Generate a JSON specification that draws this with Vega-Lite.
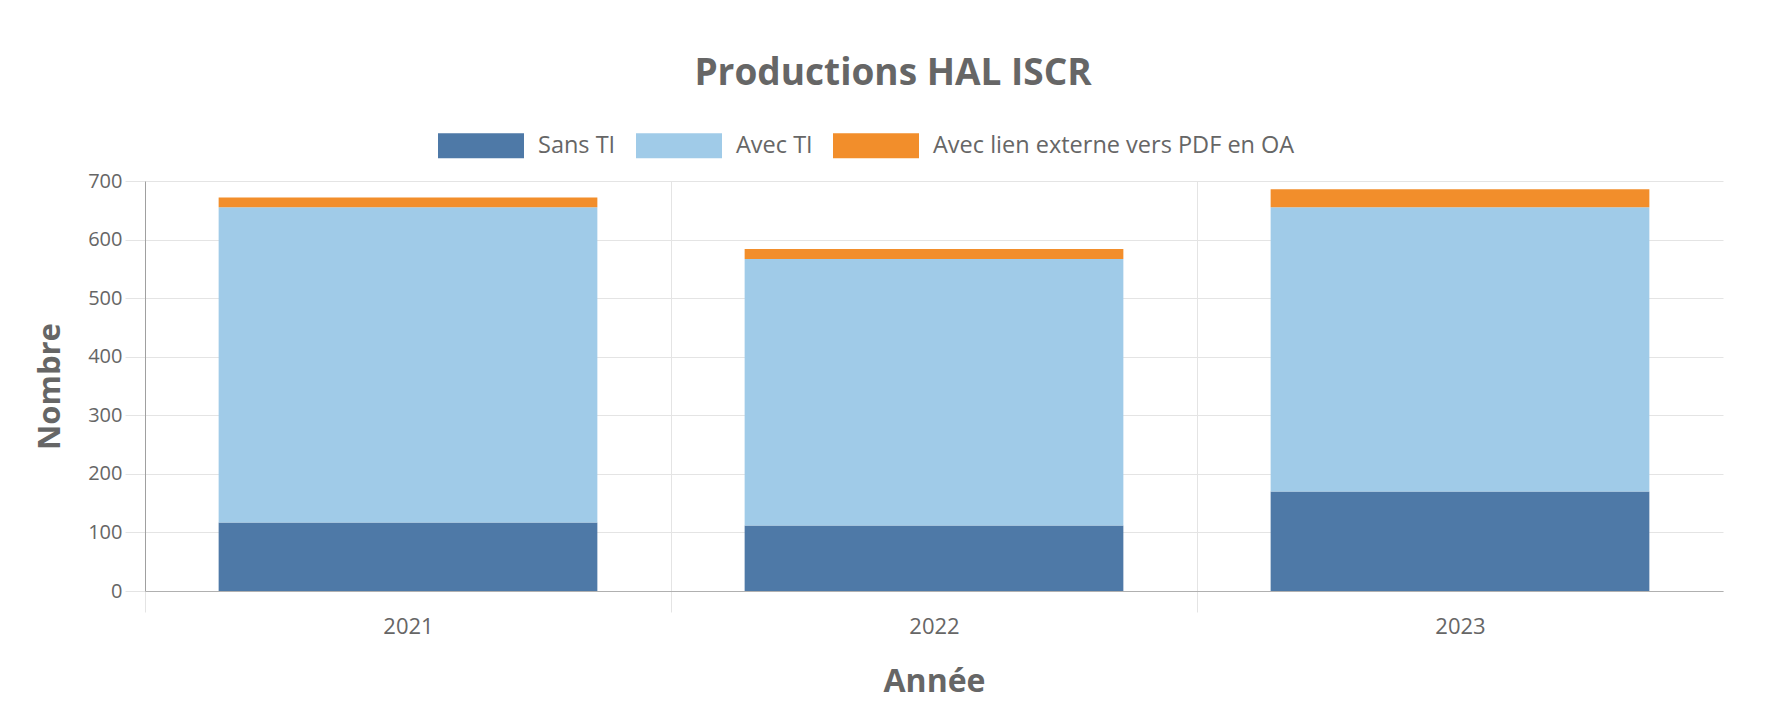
{
  "$schema": "https://vega.github.io/schema/vega-lite/v6.json",
  "width": 1578,
  "height": 410,
  "autosize": {"type": "none"},
  "padding": {"left": 145, "top": 181, "right": 42, "bottom": 125},
  "background": "white",
  "title": {
    "text": "Productions HAL ISCR",
    "anchor": "middle",
    "frame": "group",
    "dx": -41,
    "offset": 10,
    "font": "Open Sans",
    "fontSize": 37,
    "fontWeight": "bold",
    "color": "#666666"
  },
  "config": {
    "view": {"stroke": null},
    "font": "Open Sans"
  },
  "data": {
    "values": [
      {"annee": "2021", "type": "Sans TI", "nombre": 117, "ord": 1},
      {"annee": "2021", "type": "Avec TI", "nombre": 538, "ord": 2},
      {"annee": "2021", "type": "Avec lien externe vers PDF en OA", "nombre": 17, "ord": 3},
      {"annee": "2022", "type": "Sans TI", "nombre": 112, "ord": 1},
      {"annee": "2022", "type": "Avec TI", "nombre": 455, "ord": 2},
      {"annee": "2022", "type": "Avec lien externe vers PDF en OA", "nombre": 17, "ord": 3},
      {"annee": "2023", "type": "Sans TI", "nombre": 170, "ord": 1},
      {"annee": "2023", "type": "Avec TI", "nombre": 485, "ord": 2},
      {"annee": "2023", "type": "Avec lien externe vers PDF en OA", "nombre": 31, "ord": 3}
    ]
  },
  "mark": {"type": "bar"},
  "encoding": {
    "x": {
      "field": "annee",
      "type": "nominal",
      "title": "Année",
      "scale": {"paddingInner": 0.28, "paddingOuter": 0.14},
      "axis": {
        "labelAngle": 0,
        "bandPosition": 0,
        "tickOffset": -73.6,
        "labelOffset": 73.6,
        "grid": true,
        "gridColor": "#e4e4e4",
        "tickColor": "#e4e4e4",
        "tickSize": 21,
        "domainColor": "#b0b0b0",
        "labelFontSize": 22,
        "labelColor": "#666666",
        "labelPadding": 4,
        "titleFontSize": 32,
        "titleFontWeight": "bold",
        "titleColor": "#666666",
        "titlePadding": 29
      }
    },
    "y": {
      "field": "nombre",
      "type": "quantitative",
      "stack": "zero",
      "title": "Nombre",
      "scale": {"domain": [0, 700]},
      "axis": {
        "values": [0, 100, 200, 300, 400, 500, 600, 700],
        "gridColor": "#e4e4e4",
        "tickColor": "#e4e4e4",
        "tickSize": 20,
        "domainColor": "#a0a0a0",
        "labelFontSize": 20,
        "labelColor": "#666666",
        "labelPadding": 3,
        "titleFontSize": 31,
        "titleFontWeight": "bold",
        "titleColor": "#666666",
        "titlePadding": 21
      }
    },
    "color": {
      "field": "type",
      "type": "nominal",
      "scale": {
        "domain": ["Sans TI", "Avec TI", "Avec lien externe vers PDF en OA"],
        "range": ["#4e79a7", "#a0cbe8", "#f28e2b"]
      },
      "legend": {
        "title": null,
        "orient": "none",
        "direction": "horizontal",
        "legendX": 293,
        "legendY": -78.5,
        "symbolType": "M-1,-0.29H1V0.29H-1Z",
        "symbolSize": 7396,
        "symbolStrokeWidth": 0,
        "symbolOpacity": 1,
        "labelFontSize": 23.5,
        "labelLimit": 600,
        "labelColor": "#666666",
        "labelOffset": 14,
        "columnPadding": 20
      }
    },
    "order": {"field": "ord", "type": "quantitative"}
  }
}
